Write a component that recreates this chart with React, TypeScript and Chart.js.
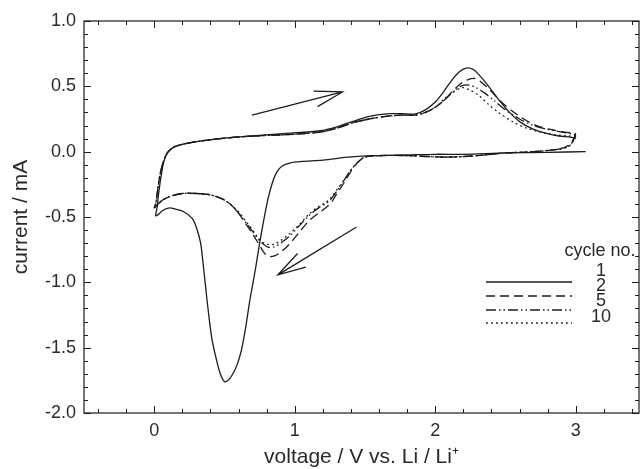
import React, { useEffect, useRef } from "react";
import { Chart, registerables } from "chart.js";

Chart.register(...registerables);

// ---------- data ----------
const xMajorTicks = [0, 1, 2, 3];
const yMajorTicks = [-2.0, -1.5, -1.0, -0.5, 0.0, 0.5, 1.0];
const xMin = -0.5;
const xMax = 3.45;
const yMin = -2.0;
const yMax = 1.0;

const cycleLabels = ["1", "2", "5", "10"];

const cycle1V = [3.07, 2.8, 2.5, 2.2, 2.0, 1.8, 1.6, 1.4, 1.2, 1.05, 0.97, 0.91, 0.87, 0.84, 0.81, 0.78, 0.75, 0.72, 0.68, 0.65, 0.62, 0.59, 0.56, 0.53, 0.50, 0.47, 0.44, 0.41, 0.39, 0.37, 0.35, 0.33, 0.30, 0.27, 0.21, 0.15, 0.11, 0.06, 0.03, 0.01,
  0.02, 0.03, 0.05, 0.07, 0.10, 0.15, 0.26, 0.47, 0.7, 0.94, 1.18, 1.3, 1.41, 1.53, 1.65, 1.76, 1.86, 1.93, 2.0, 2.06, 2.12, 2.17, 2.22, 2.27, 2.31, 2.38, 2.45, 2.52, 2.6, 2.7, 2.79, 2.88, 2.97, 3.0];
const cycle1I = [0.0, -0.005, -0.01, -0.02, -0.02, -0.025, -0.03, -0.04, -0.065, -0.075, -0.085, -0.11, -0.16, -0.24, -0.36, -0.52, -0.70, -0.90, -1.14, -1.35, -1.52, -1.63, -1.70, -1.745, -1.76, -1.70, -1.58, -1.43, -1.27, -1.08, -0.88, -0.70, -0.58, -0.51, -0.46, -0.44, -0.43, -0.45, -0.48, -0.49,
  -0.43, -0.33, -0.18, -0.07, 0.0, 0.04, 0.07, 0.10, 0.12, 0.14, 0.16, 0.19, 0.23, 0.27, 0.29, 0.29, 0.29, 0.32, 0.38, 0.46, 0.55, 0.61, 0.64, 0.63, 0.59, 0.50, 0.40, 0.31, 0.23, 0.17, 0.14, 0.12, 0.11, 0.10];

const cycle2V = [3.0, 2.98, 2.95, 2.88, 2.7, 2.5, 2.3, 2.15, 2.0, 1.8, 1.6, 1.5, 1.45, 1.40, 1.35, 1.30, 1.26, 1.22, 1.17, 1.10, 1.03, 0.96, 0.90, 0.85, 0.81, 0.78, 0.74, 0.70, 0.65, 0.60, 0.54, 0.48, 0.40, 0.30, 0.20, 0.12, 0.06, 0.02, 0.0,
  0.01, 0.02, 0.04, 0.07, 0.10, 0.15, 0.26, 0.47, 0.7, 0.94, 1.18, 1.3, 1.41, 1.53, 1.65, 1.76, 1.86, 1.93, 2.0, 2.06, 2.12, 2.18, 2.23, 2.28, 2.33, 2.40, 2.47, 2.55, 2.63, 2.72, 2.82, 2.92, 3.0];
const cycle2I = [0.14, 0.09, 0.05, 0.02, 0.0, -0.01, -0.03, -0.04, -0.04, -0.03, -0.03, -0.04, -0.08, -0.15, -0.24, -0.32, -0.39, -0.43, -0.47, -0.53, -0.62, -0.71, -0.77, -0.80, -0.80, -0.77, -0.70, -0.63, -0.55, -0.47, -0.40, -0.36, -0.33, -0.32, -0.32, -0.34, -0.37, -0.41, -0.43,
  -0.40, -0.33, -0.18, -0.06, 0.0, 0.04, 0.07, 0.10, 0.12, 0.13, 0.15, 0.18, 0.22, 0.25, 0.27, 0.28, 0.28, 0.30, 0.34, 0.39, 0.46, 0.52, 0.55, 0.56, 0.53, 0.46, 0.38, 0.31, 0.25, 0.20, 0.17, 0.15, 0.14];

const cycle5V = [3.0, 2.98, 2.95, 2.88, 2.7, 2.5, 2.3, 2.15, 2.0, 1.8, 1.6, 1.5, 1.45, 1.40, 1.35, 1.30, 1.26, 1.22, 1.17, 1.10, 1.03, 0.96, 0.90, 0.85, 0.81, 0.78, 0.74, 0.70, 0.65, 0.60, 0.54, 0.48, 0.40, 0.30, 0.20, 0.12, 0.06, 0.02, 0.0,
  0.01, 0.02, 0.04, 0.07, 0.10, 0.15, 0.26, 0.47, 0.7, 0.94, 1.18, 1.3, 1.41, 1.53, 1.65, 1.76, 1.86, 1.93, 2.0, 2.06, 2.12, 2.18, 2.24, 2.29, 2.35, 2.42, 2.5, 2.6, 2.7, 2.8, 2.9, 3.0];
const cycle5I = [0.13, 0.08, 0.04, 0.02, 0.0, -0.01, -0.03, -0.04, -0.04, -0.03, -0.03, -0.04, -0.08, -0.14, -0.22, -0.30, -0.36, -0.40, -0.43, -0.49, -0.57, -0.65, -0.70, -0.73, -0.73, -0.71, -0.67, -0.61, -0.54, -0.47, -0.40, -0.36, -0.33, -0.32, -0.32, -0.34, -0.37, -0.41, -0.43,
  -0.40, -0.33, -0.18, -0.06, 0.0, 0.04, 0.07, 0.10, 0.12, 0.13, 0.15, 0.18, 0.22, 0.25, 0.27, 0.28, 0.28, 0.30, 0.34, 0.39, 0.45, 0.50, 0.51, 0.49, 0.45, 0.39, 0.32, 0.25, 0.20, 0.17, 0.15, 0.13];

const cycle10V = [3.0, 2.98, 2.95, 2.88, 2.7, 2.5, 2.3, 2.15, 2.0, 1.8, 1.6, 1.5, 1.45, 1.40, 1.35, 1.30, 1.26, 1.22, 1.17, 1.10, 1.03, 0.96, 0.90, 0.85, 0.81, 0.78, 0.74, 0.70, 0.65, 0.60, 0.54, 0.48, 0.40, 0.30, 0.20, 0.12, 0.06, 0.02, 0.0,
  0.01, 0.02, 0.04, 0.07, 0.10, 0.15, 0.26, 0.47, 0.7, 0.94, 1.18, 1.3, 1.41, 1.53, 1.65, 1.76, 1.86, 1.93, 2.0, 2.06, 2.12, 2.19, 2.25, 2.31, 2.38, 2.45, 2.55, 2.65, 2.75, 2.85, 2.95, 3.0];
const cycle10I = [0.12, 0.08, 0.04, 0.02, 0.0, -0.01, -0.03, -0.04, -0.04, -0.03, -0.03, -0.04, -0.08, -0.14, -0.22, -0.29, -0.35, -0.39, -0.42, -0.48, -0.56, -0.63, -0.68, -0.71, -0.71, -0.70, -0.66, -0.60, -0.53, -0.46, -0.40, -0.36, -0.33, -0.32, -0.32, -0.34, -0.37, -0.41, -0.43,
  -0.40, -0.33, -0.18, -0.06, 0.0, 0.04, 0.07, 0.10, 0.12, 0.13, 0.15, 0.18, 0.22, 0.25, 0.27, 0.28, 0.28, 0.30, 0.34, 0.40, 0.45, 0.49, 0.47, 0.43, 0.36, 0.30, 0.23, 0.18, 0.15, 0.13, 0.12, 0.12];

// arrow annotations (data coordinates): [tailV, tailI, tipV, tipI]
const arrowAnodic = [0.695, 0.28, 1.34, 0.457];
const arrowCathodic = [1.44, -0.576, 0.88, -0.943];

const FONT = "'Liberation Sans', Arial, Helvetica, sans-serif";
const INK = "#1c1c1c";
const TEXT = "#2a2a2a";

const dashes: number[][] = [[], [9, 5], [10, 3, 1.5, 3, 1.5, 3], [1.8, 3.2]];

const toPoints = (v: number[], i: number[]) => v.map((x, k) => ({ x, y: i[k] }));

const framePlugin = {
  id: "frameTicks",
  afterDatasetsDraw(chart: any) {
    const { ctx, chartArea: a, scales } = chart;
    const xs = scales.x;
    const ys = scales.y;
    ctx.save();
    ctx.strokeStyle = INK;
    ctx.lineWidth = 1.2;
    ctx.strokeRect(a.left, a.top, a.right - a.left, a.bottom - a.top);
    ctx.lineWidth = 1;
    const majorLen = 7;
    const minorLen = 4;
    ctx.beginPath();
    for (let k = -2; k <= 17; k++) {
      const v = k * 0.2;
      const px = Math.round(xs.getPixelForValue(v)) + 0.5;
      if (px < a.left || px > a.right) continue;
      const len = k % 5 === 0 ? majorLen : minorLen;
      ctx.moveTo(px, a.bottom);
      ctx.lineTo(px, a.bottom - len);
      ctx.moveTo(px, a.top);
      ctx.lineTo(px, a.top + len);
    }
    for (let k = -20; k <= 10; k++) {
      const v = k * 0.1;
      const py = Math.round(ys.getPixelForValue(v)) + 0.5;
      const len = k % 5 === 0 ? majorLen : minorLen;
      ctx.moveTo(a.left, py);
      ctx.lineTo(a.left + len, py);
      ctx.moveTo(a.right, py);
      ctx.lineTo(a.right - len, py);
    }
    ctx.stroke();
    ctx.restore();
  },
  afterDraw(chart: any) {
    const { ctx, scales } = chart;
    const xs = scales.x;
    const ys = scales.y;
    ctx.save();
    const drawArrow = (arr: number[]) => {
      const x0 = xs.getPixelForValue(arr[0]);
      const y0 = ys.getPixelForValue(arr[1]);
      const x1 = xs.getPixelForValue(arr[2]);
      const y1 = ys.getPixelForValue(arr[3]);
      const ang = Math.atan2(y1 - y0, x1 - x0);
      const len = 29;
      const spread = (16 * Math.PI) / 180;
      ctx.strokeStyle = INK;
      ctx.lineWidth = 1.3;
      ctx.beginPath();
      ctx.moveTo(x0, y0);
      ctx.lineTo(x1, y1);
      ctx.moveTo(x1 - len * Math.cos(ang - spread), y1 - len * Math.sin(ang - spread));
      ctx.lineTo(x1, y1);
      ctx.lineTo(x1 - len * Math.cos(ang + spread), y1 - len * Math.sin(ang + spread));
      ctx.stroke();
    };
    drawArrow(arrowAnodic);
    drawArrow(arrowCathodic);

    // legend
    ctx.fillStyle = TEXT;
    ctx.font = `18px ${FONT}`;
    ctx.textAlign = "center";
    ctx.textBaseline = "middle";
    ctx.fillText("cycle no.", 600, 251);
    const labelY = [271, 286, 301, 317];
    const lineY = [282, 296, 310, 323];
    cycleLabels.forEach((lab, k) => {
      ctx.fillText(lab, 601, labelY[k]);
      ctx.beginPath();
      ctx.setLineDash(dashes[k]);
      ctx.lineWidth = 1.3;
      ctx.strokeStyle = INK;
      ctx.moveTo(486, lineY[k]);
      ctx.lineTo(572, lineY[k]);
      ctx.stroke();
    });
    ctx.setLineDash([]);
    ctx.restore();
  },
};

export default function App() {
  const ref = useRef<HTMLCanvasElement | null>(null);
  useEffect(() => {
    if (!ref.current) return;
    const series = [
      toPoints(cycle1V, cycle1I),
      toPoints(cycle2V, cycle2I),
      toPoints(cycle5V, cycle5I),
      toPoints(cycle10V, cycle10I),
    ];
    const chart = new Chart(ref.current, {
      type: "scatter",
      data: {
        datasets: series.map((pts, k) => ({
          label: cycleLabels[k],
          data: pts,
          showLine: true,
          fill: false,
          borderColor: INK,
          borderWidth: 1.3,
          borderDash: dashes[k],
          pointRadius: 0,
          tension: 0.3,
        })),
      },
      options: {
        animation: false,
        responsive: false,
        maintainAspectRatio: false,
        layout: { padding: { top: 21, right: 1, left: 0, bottom: 0 } },
        plugins: { legend: { display: false }, tooltip: { enabled: false } },
        scales: {
          x: {
            type: "linear",
            min: xMin,
            max: xMax,
            grid: { display: false, drawTicks: false },
            border: { display: false },
            afterBuildTicks: (s: any) => {
              s.ticks = xMajorTicks.map((v) => ({ value: v }));
            },
            afterFit: (s: any) => {
              s.height = 56;
            },
            ticks: {
              padding: 7,
              autoSkip: false,
              maxRotation: 0,
              color: TEXT,
              font: { family: FONT, size: 18 },
              callback: (v: any) => String(v),
            },
            title: {
              display: true,
              text: "voltage / V vs. Li / Li⁺",
              color: TEXT,
              font: { family: FONT, size: 21 },
              padding: { top: 0, bottom: -1 },
            },
          },
          y: {
            type: "linear",
            min: yMin,
            max: yMax,
            grid: { display: false, drawTicks: false },
            border: { display: false },
            afterBuildTicks: (s: any) => {
              s.ticks = yMajorTicks.map((v) => ({ value: v }));
            },
            afterFit: (s: any) => {
              s.width = 84;
            },
            ticks: {
              padding: 8,
              autoSkip: false,
              color: TEXT,
              font: { family: FONT, size: 18 },
              callback: (v: any) => Number(v).toFixed(1),
            },
            title: {
              display: true,
              text: "current / mA",
              color: TEXT,
              font: { family: FONT, size: 21 },
              padding: { top: 9, bottom: 0 },
            },
          },
        },
      },
      plugins: [framePlugin],
    });
    return () => chart.destroy();
  }, []);
  return (
    <div style={{ position: "fixed", left: 0, top: 0, width: 640, height: 469, background: "#fff" }}>
      <canvas ref={ref} width={640} height={469} style={{ display: "block", width: 640, height: 469 }} />
    </div>
  );
}
